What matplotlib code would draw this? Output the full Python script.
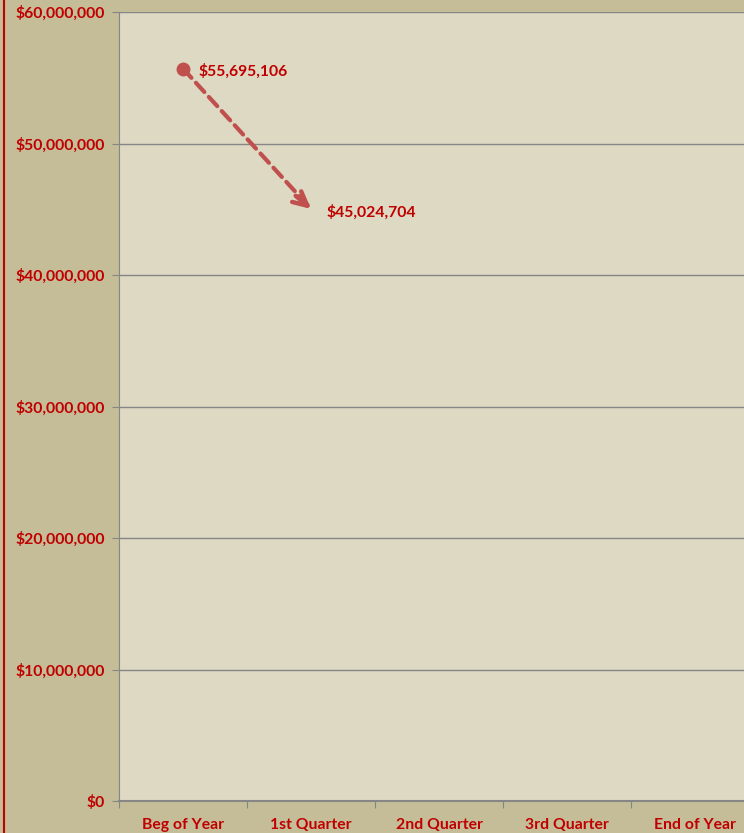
import matplotlib.pyplot as plt
from matplotlib.lines import Line2D
from matplotlib.ticker import FuncFormatter

# datos del grafico
categorias = ["Beg of Year", "1st Quarter", "2nd Quarter", "3rd Quarter", "End of Year"]
valores = [55695106, 45024704]
etiquetas = ["$55,695,106", "$45,024,704"]

rojo = "#C00000"
linea = "#C0504D"
fondo = "#C4BD97"
fondo_plot = "#DDD9C3"

plt.rcParams["font.family"] = ["Lato", "DejaVu Sans"]

fig = plt.figure(figsize=(7.44, 8.33), dpi=100, facecolor=fondo)
ax = fig.add_axes([119 / 744, 32 / 833, 640 / 744, 789 / 833])
ax.set_facecolor(fondo_plot)

x = list(range(len(valores)))
# linea discontinua
ax.plot(x, valores, color=linea, lw=3, ls=(0, (3, 1.6)), dash_capstyle="round", zorder=3)
# punta de flecha
ax.annotate("", xy=(x[1], valores[1]), xytext=(x[1] - 0.12, valores[1] + 1.0e6),
            arrowprops=dict(arrowstyle="->,head_length=1.0,head_width=0.5", color=linea, lw=3.2,
                            shrinkA=0, shrinkB=0), zorder=4)
ax.plot(x[0], valores[0], "o", color=linea, ms=9, zorder=5)

for xi, v, t in zip(x, valores, etiquetas):
    ax.annotate(t, (xi, v), xytext=(11, -2), textcoords="offset points", va="center", ha="left",
                color=rojo, fontweight="bold", fontsize=11.3)

ax.set_xlim(-0.5, 4.5)
ax.set_ylim(0, 60000000)
ax.set_yticks(range(0, 60000001, 10000000))
ax.yaxis.set_major_formatter(FuncFormatter(lambda v, p: "${:,.0f}".format(v)))
ax.set_xticks([i + 0.5 for i in range(-1, 5)], minor=False)
ax.set_xticklabels([])
ax.set_xticks(range(len(categorias)), minor=True)
ax.set_xticklabels(categorias, minor=True)
ax.tick_params(axis="x", which="minor", length=0, pad=12, labelcolor=rojo, labelsize=11.3)
ax.tick_params(axis="x", which="major", length=5, color="#868686")
ax.tick_params(axis="y", length=5, color="#868686", labelcolor=rojo, labelsize=11.3, pad=5)
for lbl in ax.get_yticklabels() + ax.get_xticklabels(minor=True):
    lbl.set_fontweight("bold")

ax.grid(axis="y", color="#868686", lw=1)
ax.set_axisbelow(True)
for s in ["top", "right"]:
    ax.spines[s].set_visible(False)
ax.spines["left"].set_color("#868686")
ax.spines["bottom"].set_color("#868686")
ax.spines["bottom"].set_linewidth(1.5)

# linea roja a la izquierda
fig.add_artist(Line2D([4 / 744, 4 / 744], [0, 1], transform=fig.transFigure, color=rojo, lw=1.5))

plt.savefig("out.png", dpi=100, facecolor=fondo)
